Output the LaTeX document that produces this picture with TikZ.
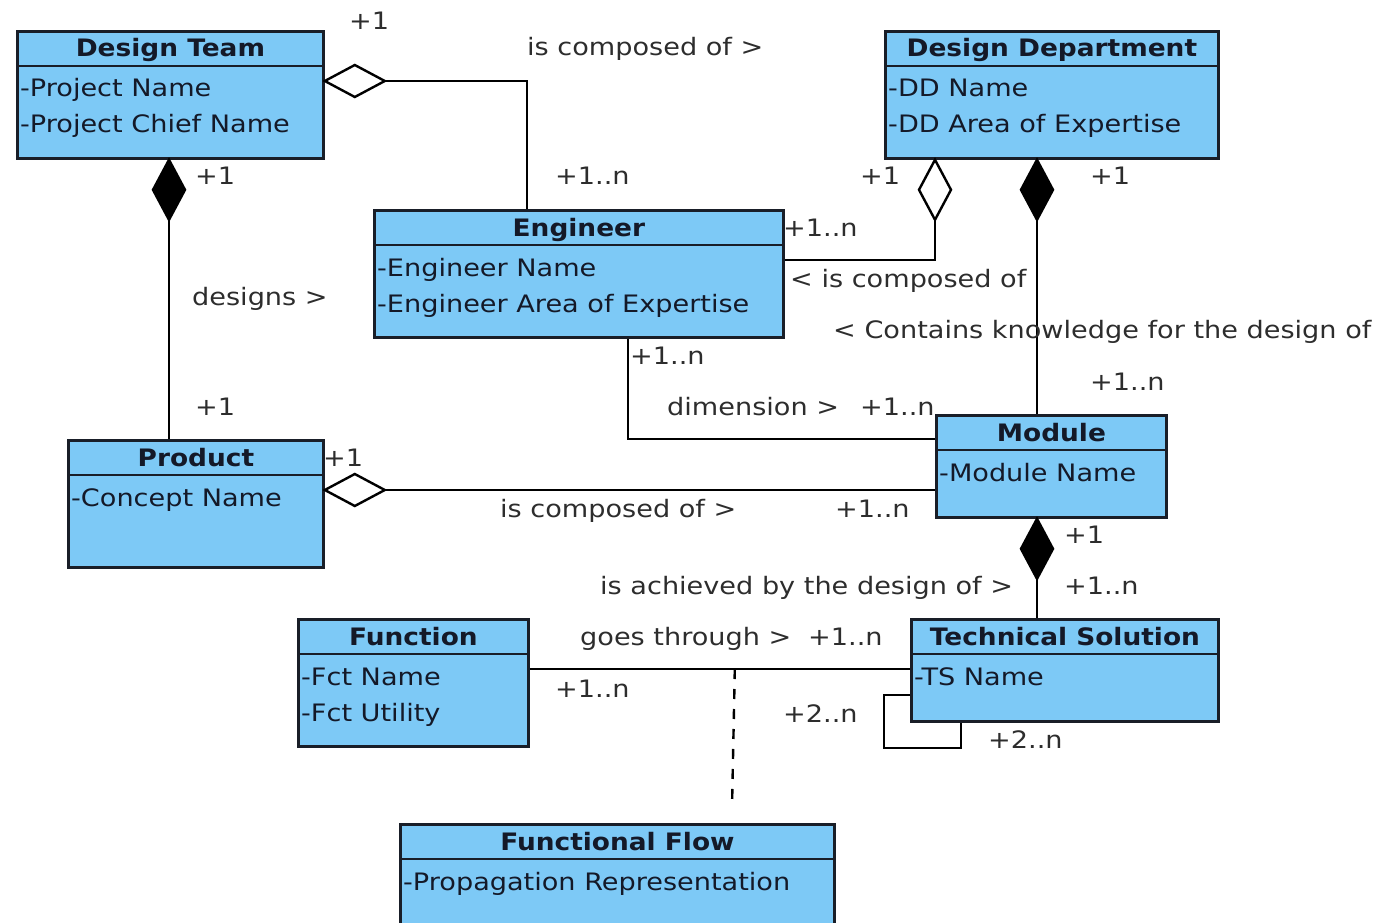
\documentclass[tikz,border=0pt]{standalone}
\usepackage{fontspec}
\setmainfont[FakeStretch=1.13, BoldFeatures={FakeStretch=1.1}]{DejaVu Sans}
\usetikzlibrary{calc}
\definecolor{boxblue}{RGB}{125,201,246}
\definecolor{boxline}{RGB}{25,30,40}
\definecolor{txt}{RGB}{20,25,40}
\definecolor{lbl}{RGB}{45,45,45}
\newcommand{\umlclass}[6]{%
  \node[classbox, minimum width=#4, minimum height=#5] (#1) at (#2,#3) {};
  \draw[boxline, line width=2.8pt] ($(#1.north west)+(0,36)$) -- ($(#1.north east)+(0,36)$);
  \node[hdr] (#1-h) at ($(#1.north)+(0,27)$) {#6};
}
\begin{document}
\begin{tikzpicture}[x=1pt,y=-1pt,
  classbox/.style={draw=boxline, line width=2.8pt, fill=boxblue, anchor=north west, inner sep=0pt},
  hdr/.style={font=\fontsize{24}{28}\selectfont\bfseries, text=txt, anchor=base, inner sep=0pt},
  attr/.style={font=\fontsize{24}{28}\selectfont, text=txt, anchor=base west, inner sep=0pt},
  lab/.style={font=\fontsize{24}{28}\selectfont, text=lbl, anchor=base west, inner sep=0pt},
  conn/.style={draw=black, line width=2.4pt},
  odiam/.style={draw=black, line width=2.4pt, fill=white, line join=miter},
  fdiam/.style={draw=black, line width=2.4pt, fill=black, line join=miter},
  dashline/.style={draw=black, line width=2.4pt, dash pattern=on 10pt off 10pt}
]
\useasboundingbox (0,0) rectangle (1379,923);

% ---- classes ----
\umlclass{dt}{16}{30}{306}{127}{Design Team}
\umlclass{dd}{884}{30}{333}{127}{Design Department}
\umlclass{eng}{373}{209}{409}{127}{Engineer}
\umlclass{prod}{67}{439}{255}{127}{Product}
\umlclass{mod}{935}{414}{230}{102}{Module}
\umlclass{fct}{297}{618}{230}{127}{Function}
\umlclass{ts}{910}{618}{307}{102}{Technical Solution}
\umlclass{ff}{399}{823}{434}{130}{Functional Flow}

\node[attr] (dt-a1) at (20,97) {-Project Name};
\node[attr] (dt-a2) at (20,133) {-Project Chief Name};
\node[attr] (dd-a1) at (888,97) {-DD Name};
\node[attr] (dd-a2) at (888,133) {-DD Area of Expertise};
\node[attr] (eng-a1) at (377,276) {-Engineer Name};
\node[attr] (eng-a2) at (377,312) {-Engineer Area of Expertise};
\node[attr] (prod-a1) at (71,506) {-Concept Name};
\node[attr] (mod-a1) at (939,481) {-Module Name};
\node[attr] (fct-a1) at (301,685) {-Fct Name};
\node[attr] (fct-a2) at (301,721) {-Fct Utility};
\node[attr] (ts-a1) at (914,685) {-TS Name};
\node[attr] (ff-a1) at (403,890) {-Propagation Representation};

% ---- connectors ----
% Design Team <>-- Engineer
\coordinate (c1) at ($(dt.north east)+(0,51)$);
\draw[conn] ($(c1)+(60,0)$) -| ($(eng.north west)+(154,0)$);
\draw[odiam] (c1) -- ++(30,-16) -- ++(30,16) -- ++(-30,16) -- cycle;

% Design Team <#>-- Product
\coordinate (c2) at ($(dt.south west)+(153,0)$);
\draw[conn] ($(c2)+(0,60)$) -- ($(prod.north west)+(102,0)$);
\draw[fdiam] (c2) -- ++(16,30) -- ++(-16,30) -- ++(-16,-30) -- cycle;

% Design Department <>-- Engineer
\coordinate (c3) at ($(dd.south west)+(51,0)$);
\draw[conn] ($(c3)+(0,60)$) |- ($(eng.north east)+(0,51)$);
\draw[odiam] (c3) -- ++(16,30) -- ++(-16,30) -- ++(-16,-30) -- cycle;

% Design Department <#>-- Module
\coordinate (c4) at ($(dd.south west)+(153,0)$);
\draw[conn] ($(c4)+(0,60)$) -- ($(mod.north west)+(102,0)$);
\draw[fdiam] (c4) -- ++(16,30) -- ++(-16,30) -- ++(-16,-30) -- cycle;

% Engineer -- Module (dimension)
\draw[conn] ($(eng.south west)+(255,0)$) |- ($(mod.north west)+(0,25)$);

% Product <>-- Module
\coordinate (c6) at ($(prod.north east)+(0,51)$);
\draw[conn] ($(c6)+(60,0)$) -- ($(mod.north west)+(0,76)$);
\draw[odiam] (c6) -- ++(30,-16) -- ++(30,16) -- ++(-30,16) -- cycle;

% Module <#>-- Technical Solution
\coordinate (c7) at ($(mod.south west)+(102,0)$);
\draw[conn] ($(c7)+(0,60)$) -- ($(ts.north west)+(127,0)$);
\draw[fdiam] (c7) -- ++(16,30) -- ++(-16,30) -- ++(-16,-30) -- cycle;

% Function -- Technical Solution
\draw[conn] ($(fct.north east)+(0,51)$) -- ($(ts.north west)+(0,51)$);
\coordinate (fl) at ($(fct.north east)+(205,51)$);
\draw[dashline] (fl) -- ($(ff.north west)+(333,-15)$);

% Technical Solution self loop
\coordinate (sl) at ($(ts.north west)+(-26,77)$);
\draw[conn] ($(ts.north west)+(0,77)$) -- (sl) |- ($(ts.south west)+(51,25)$) -- ($(ts.south west)+(51,0)$);

% ---- labels ----
\node[lab] (l1) at (349,30) {+1};
\node[lab] (l2) at (527,56) {is composed of >};
\node[lab] (l3) at (555,185) {+1..n};
\node[lab] (l4) at (195,185) {+1};
\node[lab] (l5) at (192,305) {designs >};
\node[lab] (l6) at (195,415) {+1};
\node[lab] (l7) at (860,185) {+1};
\node[lab] (l8) at (1090,185) {+1};
\node[lab] (l9) at (783,236) {+1..n};
\node[lab] (l10) at (790,287) {< is composed of};
\node[lab] (l11) at (833,338) {< Contains knowledge for the design of};
\node[lab] (l12) at (1090,390) {+1..n};
\node[lab] (l13) at (630,364) {+1..n};
\node[lab] (l14) at (667,415) {dimension >};
\node[lab] (l15) at (860,415) {+1..n};
\node[lab] (l16) at (323,466) {+1};
\node[lab] (l17) at (500,517) {is composed of >};
\node[lab] (l18) at (835,517) {+1..n};
\node[lab] (l19) at (1064,543) {+1};
\node[lab] (l20) at (600,594) {is achieved by the design of >};
\node[lab] (l21) at (1064,594) {+1..n};
\node[lab] (l22) at (580,645) {goes through >};
\node[lab] (l23) at (808,645) {+1..n};
\node[lab] (l24) at (555,697) {+1..n};
\node[lab] (l25) at (783,722) {+2..n};
\node[lab] (l26) at (988,748) {+2..n};
\end{tikzpicture}
\end{document}
